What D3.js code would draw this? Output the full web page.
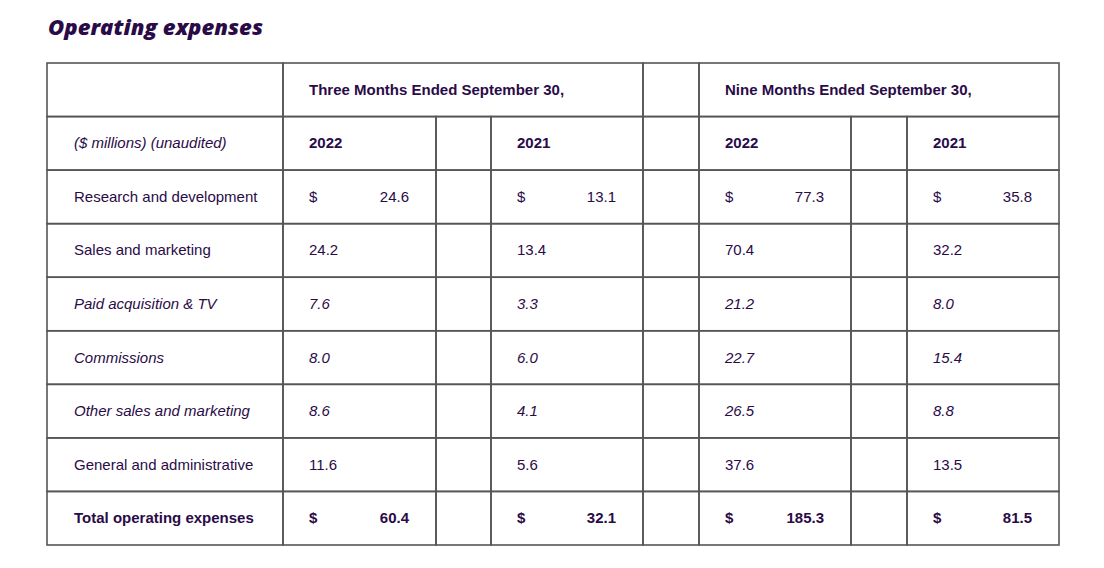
<!DOCTYPE html><html><head><meta charset="utf-8">
<script src="https://cdn.jsdelivr.net/npm/d3@7"></script>
<style>body{margin:0;background:#fff}</style></head><body>
<svg id="c" width="1104" height="568"></svg>
<script>
const title = "Operating expenses";
const periodHeaders = ["Three Months Ended September 30,", "Nine Months Ended September 30,"];
const years = ["2022", "2021", "2022", "2021"];
const unitLabel = "($ millions) (unaudited)";
const categories = ["Research and development","Sales and marketing","Paid acquisition & TV","Commissions","Other sales and marketing","General and administrative","Total operating expenses"];
const rowStyle = ["dollar","plain","italic","italic","italic","plain","total"];
const q3_2022 = [24.6,24.2,7.6,8.0,8.6,11.6,60.4];
const q3_2021 = [13.1,13.4,3.3,6.0,4.1,5.6,32.1];
const ytd_2022 = [77.3,70.4,21.2,22.7,26.5,37.6,185.3];
const ytd_2021 = [35.8,32.2,8.0,15.4,8.8,13.5,81.5];
const series = [q3_2022,q3_2021,ytd_2022,ytd_2021];

const svg = d3.select("#c");
const ink = "#2a0b47", line = "#555";
svg.append("text").attr("x",48).attr("y",35).text(title)
  .attr("font-family","Open Sans").attr("font-weight",800).attr("font-style","italic")
  .attr("font-size",21).attr("fill",ink).attr("textLength",215).attr("lengthAdjust","spacingAndGlyphs");

const colEdges = [47,283,436,491,643,699,851,907,1059];
const y = d3.scaleLinear().domain([0,9]).range([63,545]);
const dataCols = [1,3,5,7];
const g = svg.append("g").attr("font-family","Liberation Sans, Arial").attr("font-size",15).attr("fill",ink);

const cell=(x0,x1,r)=>g.append("rect").attr("x",x0).attr("y",y(r)).attr("width",x1-x0).attr("height",y(r+1)-y(r))
  .attr("fill","none").attr("stroke",line).attr("stroke-width",1.6);
cell(colEdges[0],colEdges[1],0);cell(colEdges[1],colEdges[4],0);cell(colEdges[4],colEdges[5],0);cell(colEdges[5],colEdges[8],0);
for(let r=1;r<9;r++) for(let c=0;c<8;c++) cell(colEdges[c],colEdges[c+1],r);

const ty=r=>(y(r)+y(r+1))/2+5;
periodHeaders.forEach((t,i)=>g.append("text").attr("x",colEdges[i?5:1]+26).attr("y",ty(0)).attr("font-weight","bold").text(t));
g.append("text").attr("x",74).attr("y",ty(1)).attr("font-style","italic").text(unitLabel);
years.forEach((t,i)=>g.append("text").attr("x",colEdges[dataCols[i]]+26).attr("y",ty(1)).attr("font-weight","bold").text(t));

categories.forEach((cat,k)=>{
  const r=k+2, st=rowStyle[k];
  const t=g.append("text").attr("x",74).attr("y",ty(r)).text(cat);
  if(st==="italic") t.attr("font-style","italic");
  if(st==="total") t.attr("font-weight","bold");
  series.forEach((s,i)=>{
    const x0=colEdges[dataCols[i]], x1=colEdges[dataCols[i]+1];
    const v=s[k].toFixed(1);
    if(st==="dollar"||st==="total"){
      g.append("text").attr("x",x0+26).attr("y",ty(r)).attr("font-weight",st==="total"?"bold":null).text("$");
      g.append("text").attr("x",x1-27).attr("y",ty(r)).attr("text-anchor","end").attr("font-weight",st==="total"?"bold":null).text(v);
    } else {
      const n=g.append("text").attr("x",x0+26).attr("y",ty(r)).text(v);
      if(st==="italic") n.attr("font-style","italic");
    }
  });
});
</script></body></html>
